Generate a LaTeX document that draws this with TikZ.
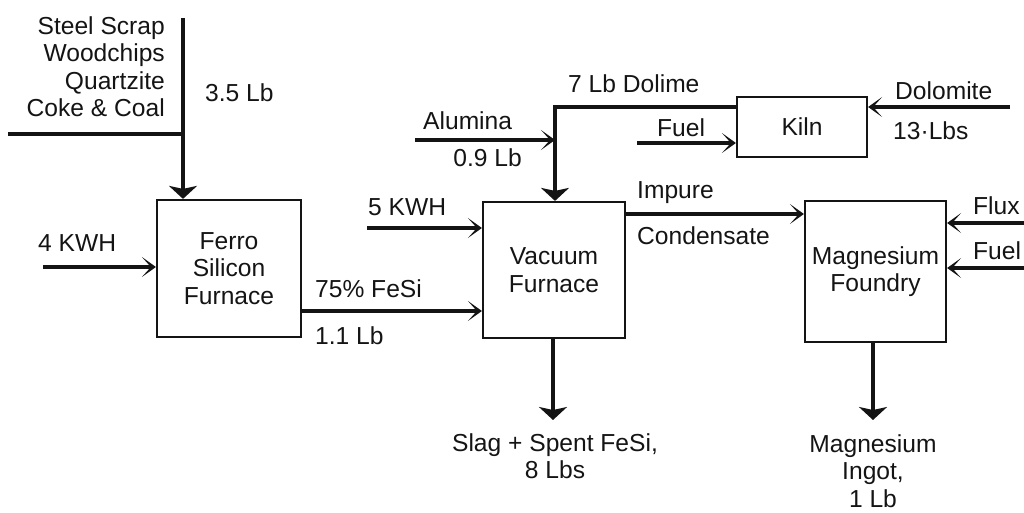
\documentclass[tikz,border=0pt]{standalone}
\usepackage{fontspec}
\setmainfont{Liberation Sans}
\usetikzlibrary{arrows.meta}
\definecolor{mgink}{HTML}{141414}
\tikzset{
  unit/.style={draw=mgink, line width=2.2pt, align=center, inner sep=0pt, text=mgink},
  arr/.style={-{Stealth[length=14pt, width=20pt, inset=9pt]}, line width=3.4pt, color=mgink},
  drop/.style={-{Stealth[length=13pt, width=28pt, inset=3pt]}, line width=3.4pt, color=mgink},
  pipe/.style={line width=3.4pt, color=mgink},
  lbl/.style={inner sep=0pt, text=mgink},
}

\begin{document}
\begin{tikzpicture}[x=1pt, y=-1pt, font=\fontsize{24.6}{27.5}\selectfont]
  \useasboundingbox (0,0) rectangle (1024,513);

  \node[unit, minimum width=144pt, minimum height=137pt] (ferro) at (229,268.5) {Ferro\\Silicon\\Furnace};
  \node[unit, minimum width=142pt, minimum height=136pt] (vac) at (554,270) {Vacuum\\Furnace};
  \node[unit, minimum width=130pt, minimum height=60pt] (kiln) at (802,127) {Kiln};
  \node[unit, minimum width=141pt, minimum height=141pt] (mgf) at (875.5,271.5) {Magnesium\\Foundry};

  \coordinate (feedTop) at (183,18);
  \coordinate (feedJoin) at (183,134);
  \coordinate (feedLeft) at (8,134);
  \coordinate (kwhA) at (43,267);
  \coordinate (kwhB) at (367,228);
  \coordinate (dolTurn) at (555,107);
  \coordinate (aluA) at (415,140);
  \coordinate (kfuel) at (637,143);
  \coordinate (dolo) at (1010,107);
  \coordinate (flux) at (1024,223);
  \coordinate (mfuel) at (1024,268);
  \coordinate (slag) at (553,420);
  \coordinate (ingot) at (873,420);

  \draw[pipe] (feedLeft) -- (feedJoin);
  \draw[drop] (feedTop) -- (feedTop |- ferro.north);
  \draw[arr] (kwhA) -- (kwhA -| ferro.west);
  \draw[arr] ([yshift=-42.5pt]ferro.east) coordinate (fesiA) -- (fesiA -| vac.west);
  \draw[arr] (kwhB) -- (kwhB -| vac.west);
  \draw[drop] ([yshift=20pt]kiln.west) -- (dolTurn) -- (dolTurn |- vac.north);
  \draw[arr] (aluA) -- (aluA -| dolTurn);
  \draw[arr] (kfuel) -- (kfuel -| kiln.west);
  \draw[arr] (dolo) -- (dolo -| kiln.east);
  \draw[arr] ([yshift=56pt]vac.east) coordinate (impA) -- (impA -| mgf.west);
  \draw[arr] (flux) -- (flux -| mgf.east);
  \draw[arr] (mfuel) -- (mfuel -| mgf.east);
  \draw[drop] (slag |- vac.south) -- (slag);
  \draw[drop] (ingot |- mgf.south) -- (ingot);

  \node[lbl, anchor=north east, align=right] (lSteel) at (165,16) {Steel Scrap\\Woodchips\\Quartzite\\Coke \& Coal};
  \foreach \nm/\px/\py/\txt in {lFeed/205/83/3.5 Lb, lKwhA/38/234/4 KWH, lFesi/315/279/75\% FeSi,
      lFesiLb/315/326/1.1 Lb, lKwhB/368/198/5 KWH, lDolime/568/74/7 Lb Dolime, lAlu/423/111/Alumina,
      lKfuel/657/118/Fuel, lDolo/895/81/Dolomite, lDoloLb/893/121/13·Lbs, lImp/637/181/Impure,
      lCond/637/226/Condensate, lFlux/973/196/Flux, lMfuel/973/241/Fuel} {
    \node[lbl, anchor=north west] (\nm) at (\px,\py) {\txt};
  }
  \node[lbl, anchor=north east] (lAluLb) at (522,148) {0.9 Lb};
  \node[lbl, anchor=north, align=center] (lSlag) at (555,433) {Slag + Spent FeSi,\\8 Lbs};
  \node[lbl, anchor=north, align=center] (lIngot) at (873,434) {Magnesium\\Ingot,\\1 Lb};
\end{tikzpicture}
\end{document}
